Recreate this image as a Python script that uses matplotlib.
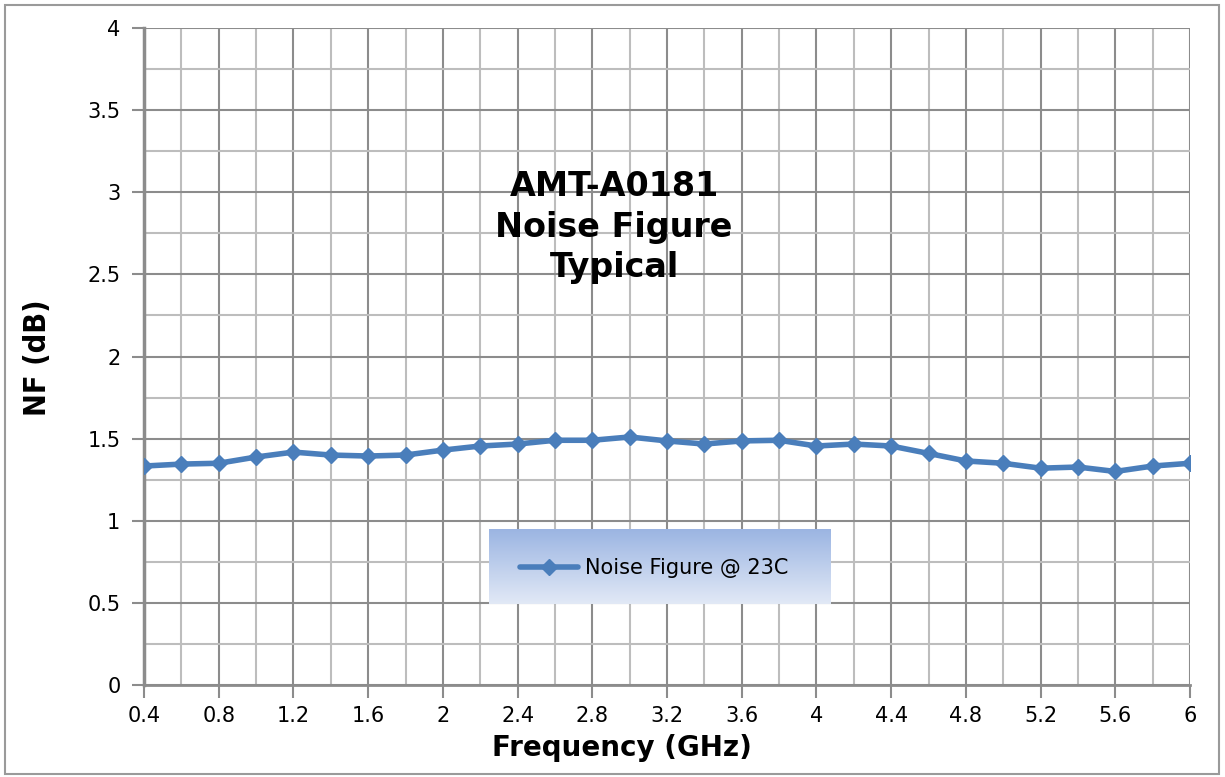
import matplotlib
matplotlib.use("Agg")
import matplotlib.pyplot as plt
import numpy as np
from matplotlib.patches import Rectangle
from matplotlib.ticker import MultipleLocator

freq = [0.4, 0.6, 0.8, 1.0, 1.2, 1.4, 1.6, 1.8, 2.0, 2.2, 2.4, 2.6, 2.8, 3.0, 3.2,
        3.4, 3.6, 3.8, 4.0, 4.2, 4.4, 4.6, 4.8, 5.0, 5.2, 5.4, 5.6, 5.8, 6.0]
nf = [1.333, 1.345, 1.35, 1.388, 1.418, 1.40, 1.394, 1.40, 1.43, 1.455, 1.467, 1.49,
      1.49, 1.51, 1.486, 1.467, 1.486, 1.49, 1.455, 1.467, 1.455, 1.41, 1.364, 1.35,
      1.32, 1.327, 1.30, 1.333, 1.35]
series_label = "Noise Figure @ 23C"
title_lines = ["AMT-A0181", "Noise Figure", "Typical"]
xticks = [0.4, 0.8, 1.2, 1.6, 2.0, 2.4, 2.8, 3.2, 3.6, 4.0, 4.4, 4.8, 5.2, 5.6, 6.0]
xticklabels = ["0.4", "0.8", "1.2", "1.6", "2", "2.4", "2.8", "3.2", "3.6", "4",
               "4.4", "4.8", "5.2", "5.6", "6"]
yticks = [0, 0.5, 1, 1.5, 2, 2.5, 3, 3.5, 4]
yticklabels = ["0", "0.5", "1", "1.5", "2", "2.5", "3", "3.5", "4"]

W, H = 1225, 777
fig = plt.figure(figsize=(W / 100, H / 100), dpi=100)
fig.patch.set_facecolor("white")
fig.patches.append(Rectangle((5 / W, 3 / H), 1214 / W, 769 / H, transform=fig.transFigure,
                             fill=False, edgecolor="#9a9a9a", linewidth=1.5))

ax = fig.add_axes([144 / W, 1 - 685 / H, (1190 - 144) / W, (685 - 28) / H])
ax.set_xlim(0.4, 6.0)
ax.set_ylim(0, 4)

major_c = "#8c8c8c"
minor_c = "#bdbdbd"
ax.xaxis.set_minor_locator(MultipleLocator(0.2))
ax.yaxis.set_minor_locator(MultipleLocator(0.25))
ax.grid(which="minor", color=minor_c, linewidth=1.5)
ax.grid(which="major", color=major_c, linewidth=1.5)
ax.set_axisbelow(True)

ax.set_xticks(xticks)
ax.set_xticklabels(xticklabels)
ax.set_yticks(yticks)
ax.set_yticklabels(yticklabels)
ax.tick_params(which="major", direction="out", length=9, width=1.5, color=major_c,
               labelsize=15, labelcolor="black")
ax.tick_params(axis="x", which="major", pad=6)
ax.tick_params(axis="y", which="major", pad=8)
ax.tick_params(which="minor", length=0)
for lab in ax.get_xticklabels() + ax.get_yticklabels():
    lab.set_fontfamily("DejaVu Sans")

for side in ["top", "right"]:
    ax.spines[side].set_visible(False)
ax.spines["left"].set_color(major_c)
ax.spines["left"].set_linewidth(2.5)
ax.spines["bottom"].set_color(major_c)
ax.spines["bottom"].set_linewidth(2)

line, = ax.plot(freq, nf, color="#4a7ebb", linewidth=4, marker="D", markersize=8,
                markerfacecolor="#4a7ebb", markeredgecolor="#4a7ebb", zorder=5,
                label=series_label, solid_capstyle="round")

ax.set_xlabel("Frequency (GHz)", fontsize=20, fontweight="bold", family="DejaVu Sans",
              va="center", ha="center")
ax.xaxis.set_label_coords((622 - 144) / (1190 - 144), -(748 - 685) / (685 - 28))
ax.set_ylabel("NF (dB)", fontsize=22, fontweight="bold", family="DejaVu Sans",
              fontstretch="condensed", va="center", ha="center")
ax.yaxis.set_label_coords(-(144 - 38) / (1190 - 144), (685 - 358) / (685 - 28))

fig.text(614 / W, 1 - 227 / H, "\n".join(title_lines), ha="center", va="center",
         fontsize=24, fontweight="bold", family="DejaVu Sans", linespacing=1.3)

# legend box with gradient
lx0, lx1, ly0, ly1 = 489, 831, 529, 604
grad = np.linspace(0, 1, 256).reshape(-1, 1)
top = np.array([0x9a, 0xb4, 0xe2]) / 255
bot = np.array([0xe2, 0xe9, 0xf6]) / 255
img = top[None, None, :] * (1 - grad[:, :, None]) + bot[None, None, :] * grad[:, :, None]
lax = fig.add_axes([lx0 / W, 1 - ly1 / H, (lx1 - lx0) / W, (ly1 - ly0) / H])
lax.imshow(img, aspect="auto", extent=[0, 1, 0, 1], origin="upper")
lax.set_xlim(0, 1)
lax.set_ylim(0, 1)
lax.axis("off")
lax.plot([0.09, 0.26], [0.5, 0.5], color="#4a7ebb", linewidth=4, solid_capstyle="round")
lax.plot([0.175], [0.5], marker="D", markersize=8, color="#4a7ebb")
lax.text(0.28, 0.48, series_label, fontsize=15, family="DejaVu Sans", va="center",
         ha="left", color="black")

fig.savefig("out.png", dpi=100, facecolor="white")
